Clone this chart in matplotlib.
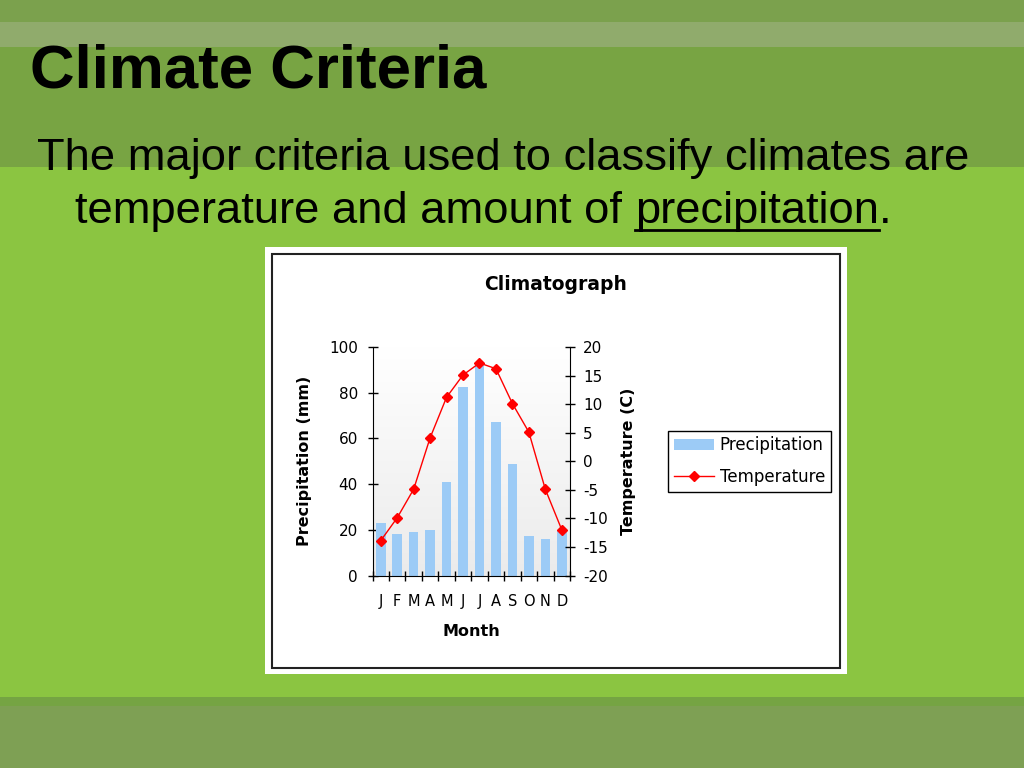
import numpy as np
import matplotlib
matplotlib.use('Agg')
import matplotlib.pyplot as plt
from matplotlib.patches import Rectangle
from matplotlib.lines import Line2D
from matplotlib.colors import LinearSegmentedColormap

# climatograph data
months = ['J', 'F', 'M', 'A', 'M', 'J', 'J', 'A', 'S', 'O', 'N', 'D']
precip = [23, 18, 19.2, 20, 41, 82.5, 92, 67.3, 49, 17.5, 16, 19.5]
temp = [-13.9, -9.9, -4.9, 4.1, 11.2, 15.1, 17.2, 16.2, 10.1, 5.1, -4.9, -12.0]
precip_ticks = [0, 20, 40, 60, 80, 100]
temp_ticks = [-20, -15, -10, -5, 0, 5, 10, 15, 20]

plt.rcParams['axes.unicode_minus'] = False

W, H = 1024, 768
fig = plt.figure(figsize=(W / 100, H / 100), dpi=100)
fig.patch.set_facecolor('#8bc541')


def fx(x):
    return x / W


def fy(y):
    return 1 - y / H


def band(x0, y0, x1, y1, color, z, **kw):
    r = Rectangle((fx(x0), fy(y1)), fx(x1) - fx(x0), fy(y0) - fy(y1),
                  transform=fig.transFigure, facecolor=color, zorder=z, **kw)
    fig.add_artist(r)


# slide background
band(0, 0, W, 22, '#7ba14d', -10, edgecolor='none')
band(0, 22, W, 47, '#90ab6c', -10, edgecolor='none')
band(0, 47, W, 167, '#78a443', -10, edgecolor='none')
band(0, 697, W, 706, '#75a443', -10, edgecolor='none')
band(0, 706, W, H, '#7ea054', -10, edgecolor='none')

# white chart panel with border
band(265, 247, 847, 674, 'white', -6, edgecolor='none')
band(271.5, 254.5, 839.5, 667.5, 'none', -5, edgecolor='#222222', linewidth=1.5)

# slide text
sans = ['Liberation Sans', 'DejaVu Sans']
fig.text(fx(30), fy(88), 'Climate Criteria', fontsize=44.5, fontweight='bold',
         family=sans, va='baseline', ha='left')
fig.text(fx(37), fy(170), 'The major criteria used to classify climates are',
         fontsize=32.7, family=sans, va='baseline', ha='left')

renderer = fig.canvas.get_renderer()
t1 = fig.text(fx(75), fy(223), 'temperature and amount of ', fontsize=32.7,
              family=sans, va='baseline', ha='left')
bb1 = t1.get_window_extent(renderer)
t2 = fig.text(bb1.x1 / W, fy(223), 'precipitation', fontsize=32.7,
              family=sans, va='baseline', ha='left')
bb2 = t2.get_window_extent(renderer)
fig.text(bb2.x1 / W, fy(223), '.', fontsize=32.7, family=sans,
         va='baseline', ha='left')
fig.add_artist(Line2D([bb2.x0 / W, bb2.x1 / W], [fy(229.5), fy(229.5)],
                      transform=fig.transFigure, color='black', linewidth=2))

# chart
ax = fig.add_axes([fx(372.5), fy(575.5), fx(570) - fx(372.5), fy(347) - fy(575.5)])
bg = LinearSegmentedColormap.from_list('bg', ['#ebebeb', '#ffffff'])
grad = np.linspace(1, 0, 256).reshape(-1, 1)
ax.imshow(grad, cmap=bg, vmin=0, vmax=1, aspect='auto',
          extent=[0, 1, 0, 1], transform=ax.transAxes, zorder=0)

x = np.arange(len(months))
ax.bar(x, precip, width=0.58, color='#9ccbf6', label='Precipitation', zorder=2)
ax.set_xlim(-0.5, 11.5)
ax.set_ylim(0, 100)
ax.set_yticks(precip_ticks)
ax.set_xticks(np.arange(-0.5, 12, 1))
ax.set_xticklabels([])
ax.set_xticks(x, minor=True)
ax.set_xticklabels(months, minor=True, fontsize=10.5)
ax.tick_params(axis='x', which='major', direction='inout', length=6.5, width=1)
ax.tick_params(axis='x', which='minor', length=0, pad=13)
ax.tick_params(axis='y', direction='inout', length=7, width=1, pad=7,
               labelsize=11)
for s in ['top', 'right']:
    ax.spines[s].set_visible(False)
for s in ['left', 'bottom']:
    ax.spines[s].set_color('black')

ax2 = ax.twinx()
ax2.plot(x, temp, color='#ff0000', linewidth=1, marker='D', markersize=5.5,
         label='Temperature', zorder=3)
ax2.set_ylim(-20, 20)
ax2.set_yticks(temp_ticks)
ax2.tick_params(axis='y', direction='inout', length=7, width=1, pad=6,
                labelsize=11)
for s in ['top', 'left', 'bottom']:
    ax2.spines[s].set_visible(False)
ax2.spines['right'].set_color('black')

fig.text(fx(556), fy(284), 'Climatograph', fontsize=13.5, fontweight='bold',
         ha='center', va='center')
fig.text(fx(304), fy(461), 'Precipitation (mm)', fontsize=11.5,
         fontweight='bold', rotation=90, ha='center', va='center')
fig.text(fx(629), fy(461), 'Temperature (C)', fontsize=11.5,
         fontweight='bold', rotation=90, ha='center', va='center')
fig.text(fx(471), fy(632), 'Month', fontsize=11.5, fontweight='bold',
         ha='center', va='center')

h1, l1 = ax.get_legend_handles_labels()
h2, l2 = ax2.get_legend_handles_labels()
leg = fig.legend(h1 + h2, l1 + l2, loc='center left',
                 bbox_to_anchor=(fx(668), fy(461)), bbox_transform=fig.transFigure,
                 fontsize=12, frameon=True, fancybox=False, framealpha=1,
                 edgecolor='black', handlelength=2.4, handletextpad=0.35,
                 borderpad=0.35, labelspacing=0.8, borderaxespad=0)
leg.get_frame().set_linewidth(1)

fig.savefig('out.png', dpi=100, facecolor=fig.get_facecolor())
